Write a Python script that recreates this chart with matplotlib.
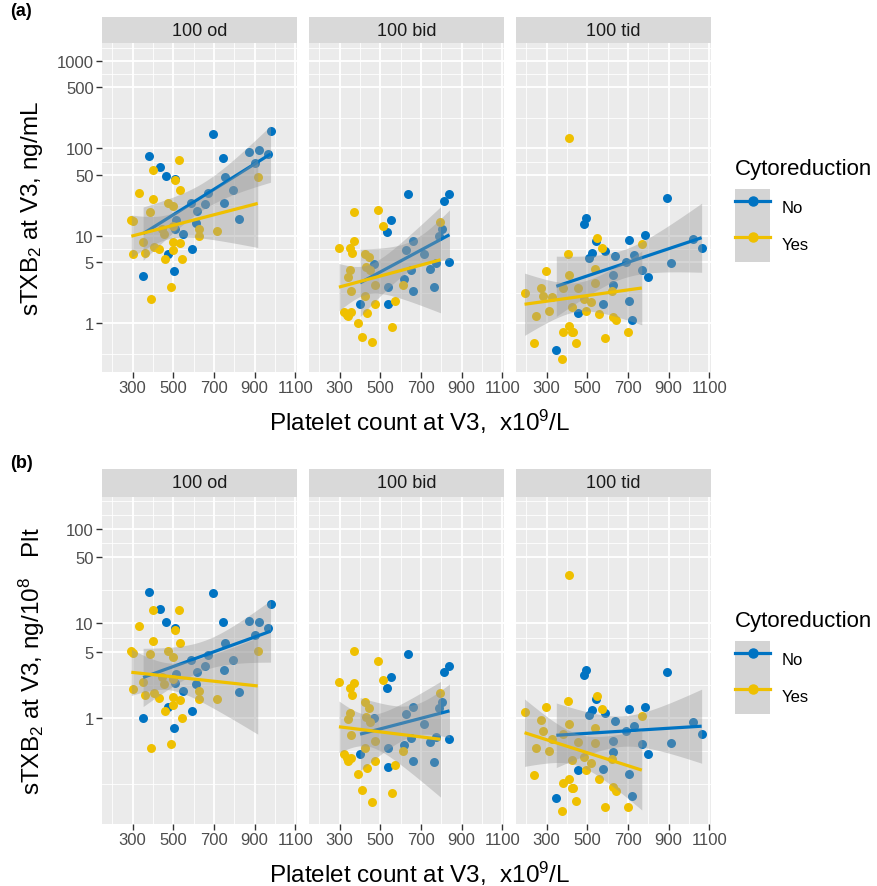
import numpy as np
import matplotlib
matplotlib.use('agg')
from matplotlib import pyplot as plt
from matplotlib.ticker import FixedLocator, NullFormatter, FixedFormatter
from matplotlib.patches import Patch
from matplotlib.lines import Line2D
from matplotlib.legend_handler import HandlerTuple

plt.rcParams['font.family'] = ['Liberation Sans', 'DejaVu Sans']
plt.rcParams['mathtext.fontset'] = 'custom'
plt.rcParams['mathtext.rm'] = 'Liberation Sans'
plt.rcParams['mathtext.it'] = 'Liberation Sans:italic'

# platelet count at V3 (x10^9/L) and sTXB2 at V3 (ng/mL)
od_no_plt = [697, 978, 380, 437, 463, 508, 743, 870, 922, 964, 903, 756, 794, 671,
             589, 617, 655, 747, 612, 825, 514, 550, 509, 472, 594, 352, 503]
od_no_txb = [146, 158, 82, 62, 48, 45, 77, 92, 96, 86, 68, 47, 33, 31,
             24, 19, 23, 24, 14, 15.5, 15, 10.6, 12, 6.2, 7.0, 3.5, 3.9]
od_yes_plt = [527, 400, 508, 331, 532, 400, 473, 501, 388, 294, 303, 915, 629, 714, 629,
              445, 499, 351, 455, 405, 432, 498, 531, 303, 359, 460, 542, 499, 491, 393]
od_yes_txb = [74, 56, 43, 31, 33, 26, 24, 22, 18.5, 15, 14.6, 47, 12, 11.2, 10,
              12, 13, 8.5, 10.5, 7.4, 7.0, 8.4, 8.2, 6.1, 6.3, 5.4, 5.4, 6.9, 2.6, 1.9]

bid_no_plt = [635, 836, 812, 554, 531, 660, 804, 790, 840, 774, 746, 627, 652, 619,
              467, 540, 663, 766, 401, 540, 717]
bid_no_txb = [30, 30, 25, 15, 11, 8.6, 12, 10, 5.0, 4.9, 4.2, 6.9, 4.0, 3.2,
              4.7, 2.6, 2.3, 2.6, 1.65, 1.65, 6.2]
bid_yes_plt = [370, 491, 512, 796, 297, 370, 349, 362, 423, 443, 428, 352, 341, 354, 423,
               472, 573, 611, 321, 341, 354, 434, 393, 559, 409, 460, 335, 451, 476]
bid_yes_txb = [18.8, 19.7, 13, 14.5, 7.2, 8.6, 7.2, 6.4, 6.2, 5.65, 4.35, 4.0, 3.35, 2.35, 2.05,
               1.65, 1.8, 2.7, 1.33, 1.2, 1.35, 1.29, 1.0, 0.89, 0.7, 0.6, 1.25, 4.1, 2.7]

tid_no_plt = [890, 495, 482, 784, 707, 544, 1018, 1062, 524, 585, 511, 634, 732, 691,
              770, 797, 912, 625, 576, 704, 454, 720, 348, 625]
tid_no_txb = [27, 16, 13.6, 10.2, 8.9, 8.6, 9.2, 7.2, 6.3, 6.6, 5.5, 5.9, 6.0, 5.0,
              4.1, 3.35, 4.9, 3.55, 1.65, 1.8, 1.29, 1.08, 0.49, 2.7]
tid_yes_plt = [411, 549, 573, 768, 406, 295, 410, 540, 192, 271, 282, 328, 380, 454, 486, 519,
               249, 311, 424, 495, 557, 625, 639, 426, 380, 431, 409, 446, 238, 585, 701, 375,
               540, 622]
tid_yes_txb = [133, 9.3, 7.2, 8.0, 6.1, 3.9, 3.55, 4.2, 2.2, 2.55, 2.05, 1.97, 2.55, 2.55, 1.9, 1.75,
               1.19, 1.38, 1.51, 1.38, 1.27, 1.16, 1.08, 0.78, 0.78, 0.78, 0.92, 0.59, 0.59, 0.67, 0.8, 0.39,
               2.9, 2.3]

facets = ['100 od', '100 bid', '100 tid']
groups = ['No', 'Yes']
colors = ['#0073C2', '#EFC000']
data = {
    '100 od': [(od_no_plt, od_no_txb), (od_yes_plt, od_yes_txb)],
    '100 bid': [(bid_no_plt, bid_no_txb), (bid_yes_plt, bid_yes_txb)],
    '100 tid': [(tid_no_plt, tid_no_txb), (tid_yes_plt, tid_yes_txb)],
}

x_ticks = [300, 500, 700, 900, 1100]
x_minor = [200, 400, 600, 800, 1000]
a_ticks = [1, 5, 10, 50, 100, 500, 1000]
b_ticks = [1, 5, 10, 50, 100]


def minor_breaks(ticks):
    # ggplot style: majors extended by one step each side, plus midpoints (log space)
    lt = list(np.log10(ticks))
    lt = [lt[0] - (lt[1] - lt[0])] + lt + [lt[-1] + (lt[-1] - lt[-2])]
    mids = [(lt[i] + lt[i + 1]) / 2 for i in range(len(lt) - 1)]
    return list(10 ** np.array(sorted(mids + [lt[0], lt[-1]])))


def t975(df):
    z = 1.959964
    return z + (z**3 + z) / (4 * df) + (5 * z**5 + 16 * z**3 + 3 * z) / (96 * df**2)


def lm_band(x, y):
    # lm on log10 scale, 95% CI like geom_smooth(method='lm')
    x = np.asarray(x, float)
    ly = np.log10(np.asarray(y, float))
    n = len(x)
    b, a = np.polyfit(x, ly, 1)
    xs = np.linspace(x.min(), x.max(), 80)
    fit = a + b * xs
    s = np.sqrt(((ly - (a + b * x)) ** 2).sum() / (n - 2))
    se = s * np.sqrt(1 / n + (xs - x.mean()) ** 2 / ((x - x.mean()) ** 2).sum())
    t = t975(n - 2)
    return xs, 10 ** fit, 10 ** (fit - t * se), 10 ** (fit + t * se)


W, H = 877, 887
fig = plt.figure(figsize=(W / 100, H / 100), dpi=100)

panel_left = [102, 309, 516]
panel_w = 195
rows = [
    # label, strip top, panel top, panel bottom, ylim, ticks, ylabel, legend title y
    ('(a)', 18, 44, 373, (0.275, 1610), a_ticks, r'sTXB$_\mathregular{2}$ at V3, ng/mL', 170),
    ('(b)', 470, 498, 825, (0.0755, 218), b_ticks,
     r'sTXB$_\mathregular{2}$ at V3, ng/10$^\mathregular{8}$   Plt', 622),
]

for r, (lab, s_top, p_top, p_bot, ylim, yt, ylab, leg_y) in enumerate(rows):
    for c, facet in enumerate(facets):
        ax = fig.add_axes([panel_left[c] / W, 1 - p_bot / H, panel_w / W, (p_bot - p_top) / H])
        ax.set_facecolor('#EBEBEB')
        for sp in ax.spines.values():
            sp.set_visible(False)
        ax.set_yscale('log')
        ax.set_xlim(150, 1108)
        ax.set_ylim(*ylim)
        ax.xaxis.set_major_locator(FixedLocator(x_ticks))
        ax.xaxis.set_major_formatter(FixedFormatter([str(v) for v in x_ticks]))
        ax.xaxis.set_minor_locator(FixedLocator(x_minor))
        ax.yaxis.set_major_locator(FixedLocator(yt))
        ax.yaxis.set_major_formatter(FixedFormatter([str(v) for v in yt]))
        ax.yaxis.set_minor_locator(FixedLocator(minor_breaks(yt)))
        ax.yaxis.set_minor_formatter(NullFormatter())
        ax.set_axisbelow(True)
        ax.grid(which='major', color='white', lw=1.3)
        ax.grid(which='minor', color='white', lw=0.6)
        ax.tick_params(which='minor', length=0)
        ax.tick_params(which='major', length=4, width=1, color='#333333',
                       labelcolor='#4D4D4D', labelsize=12, pad=2)
        if c > 0:
            ax.tick_params(axis='y', which='major', length=0, labelleft=False)

        for (px, tx), col in zip(data[facet], colors):
            px = np.asarray(px, float)
            tx = np.asarray(tx, float)
            # panel (b): sTXB2 per 10^8 platelets = ng/mL * 100 / (x10^9/L)
            yv = tx if r == 0 else tx * 100 / px
            ax.scatter(px, yv, s=42, color=col, linewidths=0, zorder=2)
        for (px, tx), col in zip(data[facet], colors):
            px = np.asarray(px, float)
            tx = np.asarray(tx, float)
            yv = tx if r == 0 else tx * 100 / px
            xs, fit, lo, hi = lm_band(px, yv)
            ax.fill_between(xs, lo, hi, color='#999999', alpha=0.4, lw=0, zorder=3)
            ax.plot(xs, fit, color=col, lw=2.3, zorder=3, solid_capstyle='butt')

        sax = fig.add_axes([panel_left[c] / W, 1 - p_top / H, panel_w / W, (p_top - s_top) / H])
        sax.set_facecolor('#D9D9D9')
        sax.set_xticks([])
        sax.set_yticks([])
        for sp in sax.spines.values():
            sp.set_visible(False)
        sax.text(0.5, 0.5, facet, ha='center', va='center', fontsize=13,
                 color='#1A1A1A', transform=sax.transAxes)

    fig.text(10 / W, 1 - (s_top - 6) / H, lab, fontweight='bold', fontsize=13, va='center')
    fig.text(32 / W, 1 - (p_top + p_bot) / 2 / H, ylab, rotation=90, ha='center',
             va='center', fontsize=17.5)
    fig.text(420 / W, 1 - (p_bot + 49) / H, r'Platelet count at V3,  x10$^\mathregular{9}$/L',
             ha='center', va='center', fontsize=17.5)

    # legend: title, then gray key column with line + point per group
    fig.text(735 / W, 1 - leg_y / H, 'Cytoreduction', fontsize=16, va='center')
    handles = [(Patch(facecolor='#D4D4D4', edgecolor='none'),
                Line2D([], [], color=col, lw=2.3, marker='o', markersize=6.5))
               for col in colors]
    fig.legend(handles, groups, loc='upper left',
               bbox_to_anchor=(735 / W, 1 - (leg_y + 20) / H), frameon=False,
               fontsize=12, handlelength=2.1, handleheight=3.0,
               labelspacing=0, handletextpad=0.7, borderpad=0, borderaxespad=0,
               handler_map={tuple: HandlerTuple(ndivide=1, pad=0)})

fig.savefig('out.png', dpi=100)
